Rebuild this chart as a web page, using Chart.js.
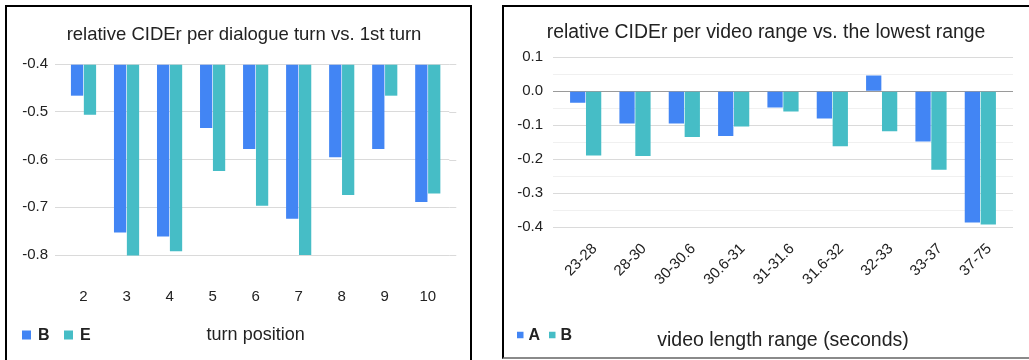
<!DOCTYPE html>
<html>
<head>
<meta charset="utf-8">
<script src="https://cdn.jsdelivr.net/npm/chart.js@4/dist/chart.umd.min.js"></script>
<style>
  html, body { margin: 0; padding: 0; background: #fff; overflow: hidden; }
  .box { position: absolute; border: 2px solid #000; background: #fff; }
  #boxL { left: 5px; top: 5px; width: 463px; height: 360px; }
  #boxR { left: 502px; top: 5px; width: 526px; height: 350px; border-bottom-color: #8a8a8a; }
  canvas { display: block; }
</style>
</head>
<body>
<div class="box" id="boxL"><canvas id="turnChart" width="463" height="353"></canvas></div>
<div class="box" id="boxR"><canvas id="rangeChart" width="524" height="350"></canvas></div>
<script>
// values
const turnLabels = ["2", "3", "4", "5", "6", "7", "8", "9", "10"];
const turnB = [-0.466, -0.753, -0.761, -0.534, -0.578, -0.724, -0.595, -0.578, -0.689];
const turnE = [-0.506, -0.801, -0.792, -0.624, -0.697, -0.800, -0.674, -0.466, -0.671];

const rangeLabels = ["23-28", "28-30", "30-30.6", "30.6-31", "31-31.6", "31.6-32", "32-33", "33-37", "37-75"];
const rangeA = [-0.034, -0.095, -0.095, -0.132, -0.048, -0.080, 0.046, -0.148, -0.387];
const rangeB = [-0.189, -0.191, -0.135, -0.104, -0.060, -0.162, -0.118, -0.231, -0.393];

const BLUE = "#4285F4";
const TEAL = "#46BDC6";
const FONT = "'Liberation Sans', Arial, sans-serif";
Chart.defaults.font.family = FONT;
Chart.defaults.color = "#222";

// little square legend drawn on the bottom row, next to the axis title
const squareLegend = {
  id: "squareLegend",
  afterDraw(chart, args, opts) {
    const ctx = chart.ctx;
    ctx.save();
    ctx.font = "bold 16px " + FONT;
    ctx.textBaseline = "middle";
    chart.data.datasets.forEach((ds, i) => {
      const x = opts.x[i];
      ctx.fillStyle = ds.backgroundColor;
      ctx.fillRect(x, opts.y - opts.size / 2, opts.size, opts.size);
      ctx.fillStyle = "#222";
      ctx.fillText(ds.label, x + opts.size + opts.gap, opts.y + 1);
    });
    ctx.restore();
  },
};

// gridlines run a bit past the right edge of the plot
const gridRight = {
  id: "gridRight",
  beforeDatasetsDraw(chart, args, opts) {
    const y = chart.scales.y;
    const ctx = chart.ctx;
    const right = chart.chartArea.right;
    ctx.save();
    ctx.lineWidth = 1;
    y.ticks.forEach((t) => {
      const py = Math.round(y.getPixelForValue(t.value)) + 0.5;
      ctx.strokeStyle = opts.color(t.value);
      ctx.beginPath();
      ctx.moveTo(right, py);
      ctx.lineTo(right + opts.ext, py);
      ctx.stroke();
    });
    ctx.restore();
  },
};

// empty scale on the right that only keeps space
const spacer = (w) => ({
  position: "right",
  display: true,
  grid: { display: false, drawTicks: false },
  border: { display: false },
  ticks: { display: false },
  afterFit(s) { s.width = w; },
});

const turnGrid = () => "#dadada";
new Chart(document.getElementById("turnChart"), {
  type: "bar",
  data: {
    labels: turnLabels,
    datasets: [
      { label: "B", data: turnB, backgroundColor: BLUE, base: -0.4, clip: false },
      { label: "E", data: turnE, backgroundColor: TEAL, base: -0.4, clip: false },
    ],
  },
  options: {
    responsive: false,
    animation: false,
    layout: { padding: { left: 11, right: 0, top: 0, bottom: 0 } },
    categoryPercentage: 0.6,
    barPercentage: 0.95,
    plugins: {
      legend: { display: false },
      tooltip: { enabled: false },
      title: {
        display: true,
        text: "relative CIDEr per dialogue turn vs. 1st turn",
        font: { size: 18.5, weight: "normal" },
        color: "#222",
        padding: { top: 17, bottom: 18 },
      },
      squareLegend: { x: [15, 57], y: 328, size: 9, gap: 7 },
      gridRight: { ext: 7, color: turnGrid },
    },
    scales: {
      x: {
        grid: { display: false, drawTicks: false },
        border: { display: false },
        ticks: { padding: 33, font: { size: 15 }, color: "#222" },
        title: {
          display: true,
          text: "turn position",
          font: { size: 18 },
          color: "#222",
          padding: { top: 0, bottom: 14 },
        },
        afterFit(s) { s.height = 105; },
      },
      y: {
        min: -0.8,
        max: -0.4,
        grid: { color: turnGrid, tickLength: 7, tickColor: turnGrid },
        border: { display: false },
        ticks: {
          stepSize: 0.1,
          padding: 7,
          font: { size: 15 },
          color: "#222",
          callback: (v) => v.toFixed(1),
        },
        afterFit(s) { s.width = 44; },
      },
      pad: spacer(16),
    },
  },
  plugins: [squareLegend, gridRight],
});

const rangeGrid = (v) => {
  if (Math.abs(v) < 1e-9) return "#9a9a9a";
  return Math.round(Math.abs(v) * 20) % 2 === 0 ? "#dadada" : "#f0f0f0";
};
new Chart(document.getElementById("rangeChart"), {
  type: "bar",
  data: {
    labels: rangeLabels,
    datasets: [
      { label: "A", data: rangeA, backgroundColor: BLUE },
      { label: "B", data: rangeB, backgroundColor: TEAL },
    ],
  },
  options: {
    responsive: false,
    animation: false,
    layout: { padding: { left: 0, right: 0, top: 0, bottom: 0 } },
    categoryPercentage: 0.645,
    barPercentage: 0.96,
    plugins: {
      legend: { display: false },
      tooltip: { enabled: false },
      title: {
        display: true,
        text: "relative CIDEr per video range vs. the lowest range",
        font: { size: 19.4, weight: "normal" },
        color: "#222",
        padding: { top: 14.3, bottom: 12.7 },
      },
      squareLegend: { x: [13, 45], y: 328, size: 6.5, gap: 5 },
      gridRight: { ext: 8, color: rangeGrid },
    },
    scales: {
      x: {
        grid: { display: false, drawTicks: false },
        border: { display: false },
        ticks: {
          padding: 13,
          labelOffset: 9,
          minRotation: 45,
          maxRotation: 45,
          autoSkip: false,
          font: { size: 15 },
          color: "#222",
        },
        title: {
          display: true,
          text: "video length range (seconds)",
          font: { size: 19.5 },
          color: "#222",
          padding: { top: 0, bottom: 5 },
        },
        afterFit(s) { s.height = 130; },
      },
      y: {
        min: -0.4,
        max: 0.1,
        grid: {
          color: (c) => rangeGrid(c.tick.value),
          tickColor: (c) => rangeGrid(c.tick.value),
          tickLength: 8,
        },
        border: { display: false },
        ticks: {
          stepSize: 0.05,
          autoSkip: false,
          padding: 10,
          font: { size: 15 },
          color: "#222",
          callback: (v) => (Math.round(Math.abs(v) * 20) % 2 === 0 ? (Math.abs(v) < 1e-9 ? 0 : v).toFixed(1) : ""),
        },
        afterFit(s) { s.width = 57; },
      },
      pad: spacer(23),
    },
  },
  plugins: [squareLegend, gridRight],
});
</script>
</body>
</html>
